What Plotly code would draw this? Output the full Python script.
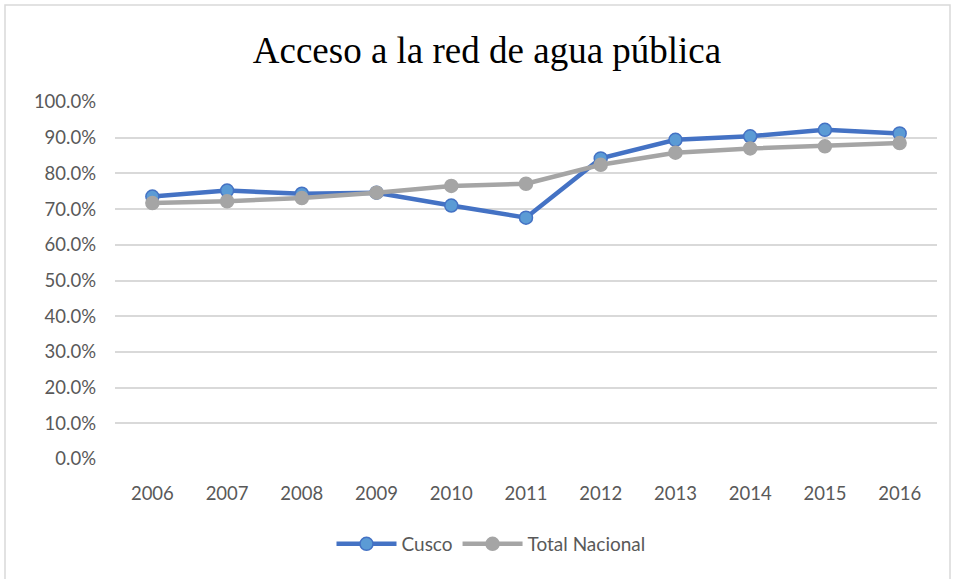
import plotly.graph_objects as go

years = ["2006", "2007", "2008", "2009", "2010", "2011", "2012", "2013", "2014", "2015", "2016"]
cusco = [0.735, 0.752, 0.743, 0.746, 0.710, 0.676, 0.842, 0.894, 0.904, 0.922, 0.912]
nacional = [0.717, 0.722, 0.731, 0.746, 0.765, 0.771, 0.824, 0.858, 0.870, 0.876, 0.885]
y_ticks = [i / 10 for i in range(11)]

W, H = 955, 579
ML, MR, MT, MB = 115, 18, 102, 120
pw, ph = W - ML - MR, H - MT - MB

def px_x(x):
    return (x - ML) / pw

def px_y(y):
    return (H - MB - y) / ph

fig = go.Figure()
fig.add_trace(go.Scatter(
    x=years, y=cusco, name="Cusco", mode="lines+markers",
    line=dict(color="#4472C4", width=4.5),
    marker=dict(size=13, color="#5B9BD5", line=dict(color="#4472C4", width=1.5)),
))
fig.add_trace(go.Scatter(
    x=years, y=nacional, name="Total Nacional", mode="lines+markers",
    line=dict(color="#A5A5A5", width=4.5),
    marker=dict(size=13, color="#A5A5A5", line=dict(color="#A5A5A5", width=1.5)),
))

fig.update_layout(
    width=W, height=H,
    margin=dict(l=ML, r=MR, t=MT, b=MB),
    paper_bgcolor="white", plot_bgcolor="white",
    title=dict(text="Acceso a la red de agua pública", x=487 / W, xanchor="center",
               y=1 - 50 / H, yanchor="middle",
               font=dict(family="Liberation Serif", size=37, color="#000000")),
    font=dict(family="Lato", size=18.5, color="#595959"),
    xaxis=dict(type="category", range=[-0.5, 10.5], showgrid=False,
               showline=False, ticks="", ticklabelstandoff=21,
               tickfont=dict(size=18.5)),
    yaxis=dict(range=[0, 1], tickvals=y_ticks, tickformat=".1%",
               showgrid=True, gridcolor="#D9D9D9", gridwidth=1.5,
               zeroline=False, showline=False, ticks="", ticklabelstandoff=18,
               tickfont=dict(size=18.5)),
    legend=dict(orientation="h", x=px_x(491), xanchor="center",
                y=px_y(544), yanchor="middle",
                font=dict(size=19, color="#595959"), itemwidth=60),
    showlegend=True,
    shapes=[dict(type="rect", xref="paper", yref="paper",
                 x0=px_x(5), x1=px_x(950), y0=px_y(590), y1=px_y(5),
                 line=dict(color="#D9D9D9", width=1.5), layer="below")],
)

fig.write_html("out.html")
